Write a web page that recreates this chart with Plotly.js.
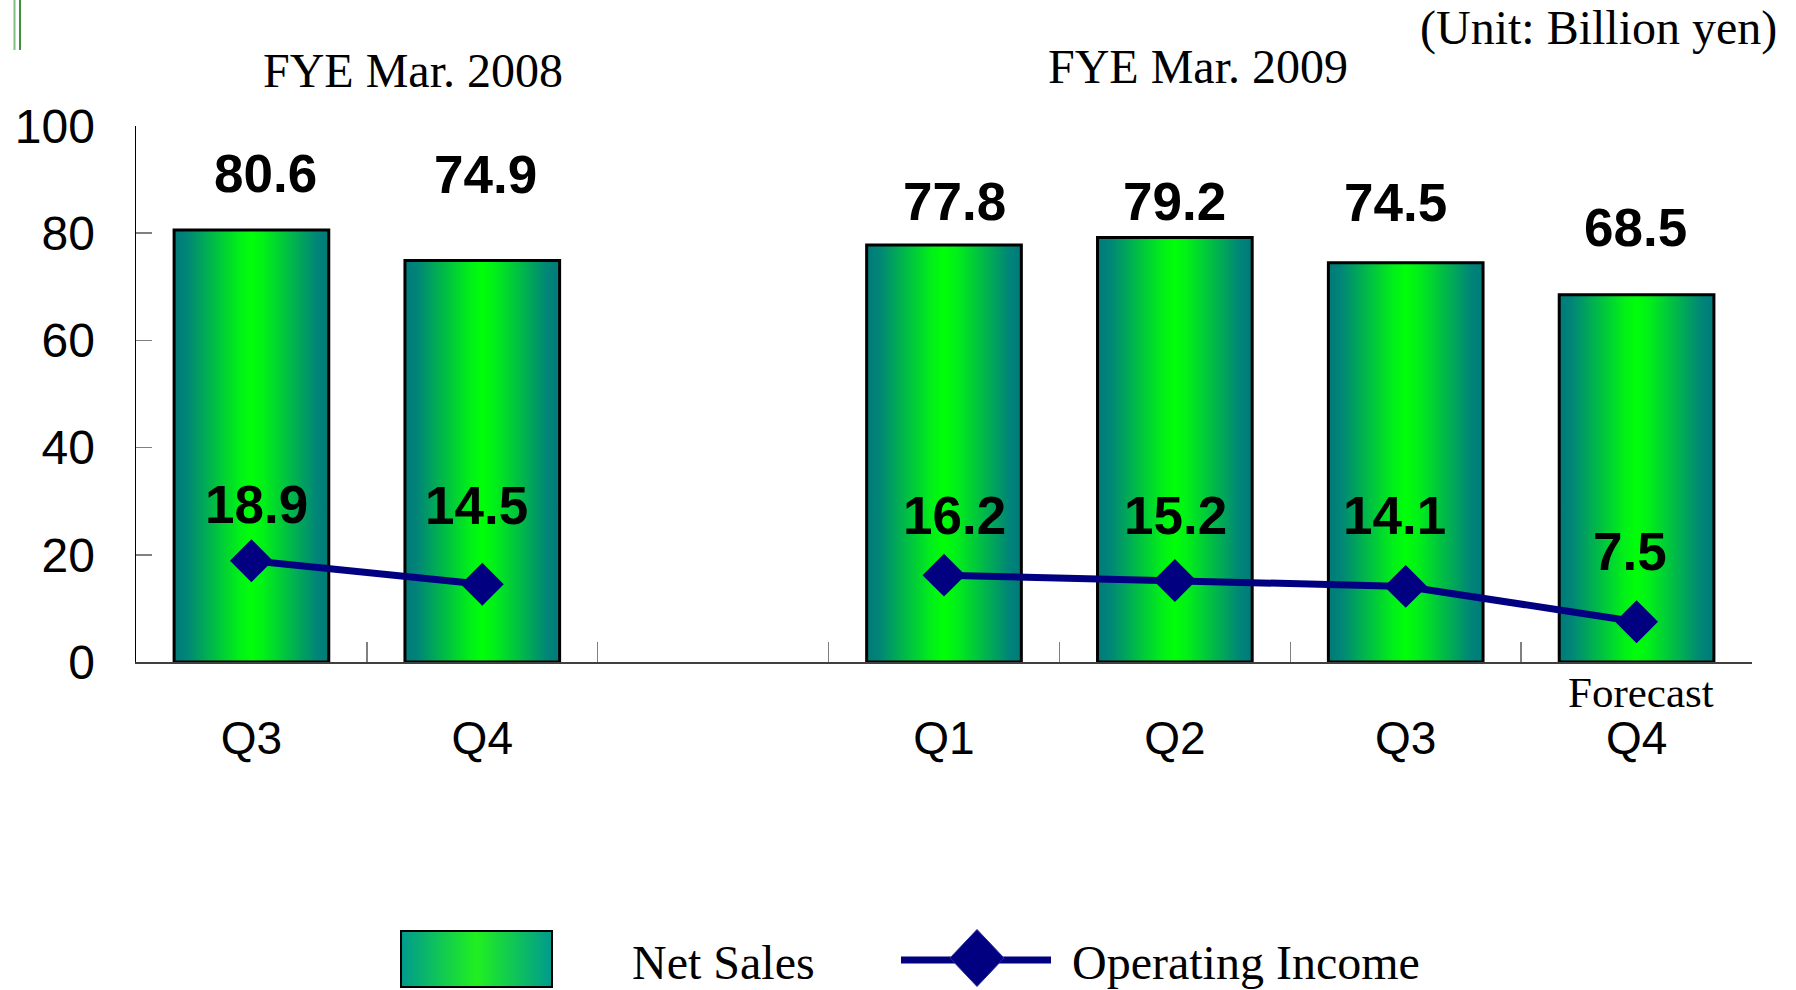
<!DOCTYPE html>
<html><head><meta charset="utf-8">
<script src="https://cdn.plot.ly/plotly-3.0.1.min.js"></script>
<style>html,body{margin:0;padding:0;background:#fff;} #chart{width:1796px;height:990px;}</style>
</head><body><div id="chart"></div>
<script>
// ---- data ----
const categories = ['FYE2008 Q3','FYE2008 Q4','FYE2009 Q1','FYE2009 Q2','FYE2009 Q3','FYE2009 Q4'];
const axisCategories = ['FYE2008 Q3','FYE2008 Q4','gap','FYE2009 Q1','FYE2009 Q2','FYE2009 Q3','FYE2009 Q4'];
const tickLabels = ['Q3','Q4','','Q1','Q2','Q3','Q4'];
const netSales = [80.6, 74.9, 77.8, 79.2, 74.5, 68.5];
const operatingIncome = [18.9, 14.5, 16.2, 15.2, 14.1, 7.5];
const seriesNames = ['Net Sales', 'Operating Income'];
const periodTitles = ['FYE Mar. 2008', 'FYE Mar. 2009'];
const unitLabel = '(Unit: Billion yen)';
const forecastLabel = 'Forecast';
const yTicks = [0, 20, 40, 60, 80, 100];

// ---- layout geometry (pixels) ----
const W = 1796, H = 990, L = 136, R = 1752, T = 126, B = 662;
const px = x => (x - L) / (R - L);
const py = y => (B - y) / (B - T);
const salesLabelShiftX = [14, 3, 10, 0, -10, -1];
const salesLabelShiftY = [56, 86, 43, 36, 60, 67];
const incomeLabelShiftX = [5, -6, 10, 1, -11, -7];
const incomeLabelShiftY = [56, 79, 60, 65, 71, 70];

const SANS = 'Liberation Sans, Arial, sans-serif';
const SERIF = 'Liberation Serif, Times New Roman, serif';
const NAVY = '#000080';

// line series placed on the full axis so the empty slot breaks the line
const incomeOnAxis = axisCategories.map(c => {
  const i = categories.indexOf(c);
  return i >= 0 ? operatingIncome[i] : null;
});

const data = [
  {
    type: 'bar', x: categories, y: netSales, name: seriesNames[0],
    marker: {color: '#00c050', line: {color: '#000000', width: 3}},
    showlegend: false, hoverinfo: 'skip'
  },
  {
    type: 'scatter', mode: 'lines+markers', x: axisCategories, y: incomeOnAxis, name: seriesNames[1],
    connectgaps: false,
    line: {color: NAVY, width: 7},
    marker: {symbol: 'diamond', size: 33, color: NAVY, line: {width: 0}},
    showlegend: false, hoverinfo: 'skip'
  }
];

const annotations = [];
categories.forEach((c, i) => {
  annotations.push({
    x: c, y: netSales[i], xref: 'x', yref: 'y', text: netSales[i].toFixed(1),
    showarrow: false, xanchor: 'center', yanchor: 'middle',
    xshift: salesLabelShiftX[i], yshift: salesLabelShiftY[i],
    font: {family: SANS, size: 53, color: '#000', weight: 'bold'}
  });
  annotations.push({
    x: c, y: operatingIncome[i], xref: 'x', yref: 'y', text: operatingIncome[i].toFixed(1),
    showarrow: false, xanchor: 'center', yanchor: 'middle',
    xshift: incomeLabelShiftX[i], yshift: incomeLabelShiftY[i],
    font: {family: SANS, size: 53, color: '#000', weight: 'bold'}
  });
});
annotations.push(
  {text: periodTitles[0], xref: 'paper', yref: 'paper', x: px(413), y: py(71), showarrow: false,
   xanchor: 'center', yanchor: 'middle', font: {family: SERIF, size: 48, color: '#000'}},
  {text: periodTitles[1], xref: 'paper', yref: 'paper', x: px(1198), y: py(66), showarrow: false,
   xanchor: 'center', yanchor: 'middle', font: {family: SERIF, size: 48, color: '#000'}},
  {text: unitLabel, xref: 'paper', yref: 'paper', x: px(1779), y: py(28), showarrow: false,
   xanchor: 'right', yanchor: 'middle', font: {family: SERIF, size: 48, color: '#000'}},
  {text: forecastLabel, xref: 'x', yref: 'paper', x: categories[5], y: py(692), xshift: 4, showarrow: false,
   xanchor: 'center', yanchor: 'middle', font: {family: SERIF, size: 43, color: '#000'}},
  {text: seriesNames[0], xref: 'paper', yref: 'paper', x: px(630), y: py(962), showarrow: false,
   xanchor: 'left', yanchor: 'middle', font: {family: SERIF, size: 48, color: '#000'}},
  {text: seriesNames[1], xref: 'paper', yref: 'paper', x: px(1070), y: py(962), showarrow: false,
   xanchor: 'left', yanchor: 'middle', font: {family: SERIF, size: 48, color: '#000'}}
);

const dcx = 977, dcy = 958, dhw = 27, dhh = 28.5;
const shapes = [
  {type: 'rect', xref: 'paper', yref: 'paper', x0: px(401), x1: px(552), y0: py(987), y1: py(931),
   line: {color: '#000', width: 2}, fillcolor: '#00c050'},
  {type: 'line', xref: 'paper', yref: 'paper', x0: px(901), x1: px(1051), y0: py(960), y1: py(960),
   line: {color: NAVY, width: 7}},
  {type: 'path', xref: 'paper', yref: 'paper',
   path: `M ${px(dcx - dhw)},${py(dcy)} L ${px(dcx)},${py(dcy - dhh)} L ${px(dcx + dhw)},${py(dcy)} L ${px(dcx)},${py(dcy + dhh)} Z`,
   line: {color: '#2a2a9a', width: 1}, fillcolor: NAVY},
  {type: 'line', xref: 'paper', yref: 'paper', x0: px(14.5), x1: px(14.5), y0: py(0), y1: py(50),
   line: {color: '#7fbf7f', width: 2}},
  {type: 'line', xref: 'paper', yref: 'paper', x0: px(20), x1: px(20), y0: py(0), y1: py(50),
   line: {color: '#3f8f3f', width: 2}}
];

const layout = {
  width: W, height: H,
  margin: {l: L, r: W - R, t: T, b: H - B, pad: 0},
  paper_bgcolor: '#ffffff', plot_bgcolor: '#ffffff',
  showlegend: false,
  bargap: 0.33,
  xaxis: {
    type: 'category', categoryorder: 'array', categoryarray: axisCategories,
    tickmode: 'array', tickvals: axisCategories, ticktext: tickLabels,
    tickson: 'boundaries', ticks: 'inside', ticklen: 20, tickwidth: 1.5, tickcolor: '#808080',
    showline: true, linecolor: '#404040', linewidth: 1.5, showgrid: false, zeroline: false,
    ticklabelstandoff: 35,
    tickfont: {family: SANS, size: 46, color: '#000'},
    range: [-0.5, 6.5], fixedrange: true
  },
  yaxis: {
    range: [0, 100], tickmode: 'array', tickvals: yTicks,
    ticks: 'inside', ticklen: 16, tickwidth: 1.5, tickcolor: '#808080',
    showline: true, linecolor: '#000', linewidth: 1.5, showgrid: false, zeroline: false,
    ticklabelstandoff: 30,
    tickfont: {family: SANS, size: 48, color: '#000'}, fixedrange: true
  },
  annotations: annotations,
  shapes: shapes
};

Plotly.newPlot('chart', data, layout, {staticPlot: true, displayModeBar: false}).then(gd => {
  const NS = 'http://www.w3.org/2000/svg';
  const svg = gd.querySelector('svg.main-svg');
  let defs = svg.querySelector('defs');
  if (!defs) { defs = document.createElementNS(NS, 'defs'); svg.insertBefore(defs, svg.firstChild); }
  const mk = (id, stops) => {
    const g = document.createElementNS(NS, 'linearGradient');
    g.setAttribute('id', id);
    g.setAttribute('x1', '0'); g.setAttribute('y1', '0'); g.setAttribute('x2', '1'); g.setAttribute('y2', '0');
    stops.forEach(([o, c]) => {
      const s = document.createElementNS(NS, 'stop');
      s.setAttribute('offset', o); s.setAttribute('stop-color', c);
      g.appendChild(s);
    });
    defs.appendChild(g);
  };
  mk('barGrad', [['0', '#007a7a'], ['0.08', '#008578'], ['0.42', '#00f018'], ['0.5', '#00ff08'], ['0.58', '#00f018'], ['0.92', '#008578'], ['1', '#007a7a']]);
  mk('legGrad', [['0', '#009a8e'], ['0.5', '#20f020'], ['1', '#009a8e']]);
  gd.querySelectorAll('.barlayer .point path').forEach(p => { p.style.fill = 'url(#barGrad)'; });
  gd.querySelectorAll('.shapelayer path[data-index="0"]').forEach(p => { p.style.fill = 'url(#legGrad)'; });
});
</script>
</body></html>
